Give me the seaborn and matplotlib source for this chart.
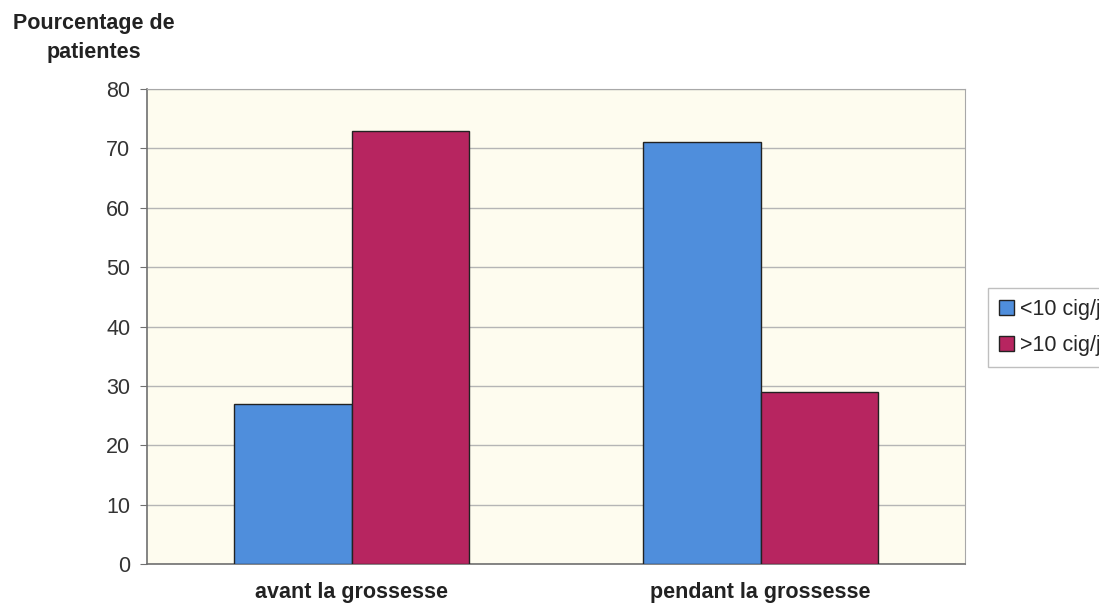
import pandas as pd
import matplotlib.pyplot as plt
import seaborn as sns
from matplotlib.patches import Patch

# Data
periods = ['avant la grossesse', 'pendant la grossesse']
groups = ['<10 cig/j', '>10 cig/j']
moins_10 = [27, 71]
plus_10 = [73, 29]
colors = ['#4F8EDC', '#B72560']

df = pd.DataFrame({
    'periode': periods * 2,
    'groupe': [groups[0]] * 2 + [groups[1]] * 2,
    'pct': moins_10 + plus_10,
})

sns.set_style('white')
plt.rcParams['font.family'] = ['Liberation Sans', 'DejaVu Sans']

fig = plt.figure(figsize=(10.99, 6.07), dpi=100)
ax = fig.add_axes([0.1338, 0.0708, 0.7443, 0.7826])
ax.set_facecolor('#FEFCEF')

sns.barplot(data=df, x='periode', y='pct', hue='groupe', palette=colors,
            width=0.575, gap=0, edgecolor='#222222', linewidth=1.0,
            saturation=1, ax=ax, legend=False, zorder=3)

ax.set_ylim(0, 80)
ax.set_yticks(range(0, 81, 10))
ax.set_xlim(-0.5, 1.5)
ax.yaxis.grid(True, color='#b5b5b5', linewidth=1.0, zorder=0)
ax.set_axisbelow(True)
for s in ['top', 'right']:
    ax.spines[s].set_color('#a8a8a8')
for s in ['left', 'bottom']:
    ax.spines[s].set_color('#707070')
    ax.spines[s].set_linewidth(1.2)
ax.tick_params(axis='y', length=5, color='#707070', labelsize=15.5,
               labelcolor='#333333', pad=7, left=True)
ax.tick_params(axis='x', length=0, labelsize=15.5, pad=13)
for lab in ax.get_xticklabels():
    lab.set_fontweight('bold')
    lab.set_color('#222222')
ax.set_xlabel('')
ax.set_ylabel('')

fig.text(94 / 1099, 1 - 38 / 607, 'Pourcentage de\npatientes', ha='center',
         va='center', fontsize=15.5, fontweight='bold', color='#222222',
         linespacing=1.5)

handles = [Patch(facecolor=c, edgecolor='#222222') for c in colors]
fig.legend(handles, groups, loc='upper left',
           bbox_to_anchor=(988 / 1099, 1 - 288 / 607), frameon=True,
           fontsize=15.5, handlelength=0.7, handleheight=0.7,
           handletextpad=0.3, borderpad=0.5, labelspacing=0.7,
           fancybox=False, edgecolor='#b0b0b0', borderaxespad=0)

plt.savefig('out.png', dpi=100)
